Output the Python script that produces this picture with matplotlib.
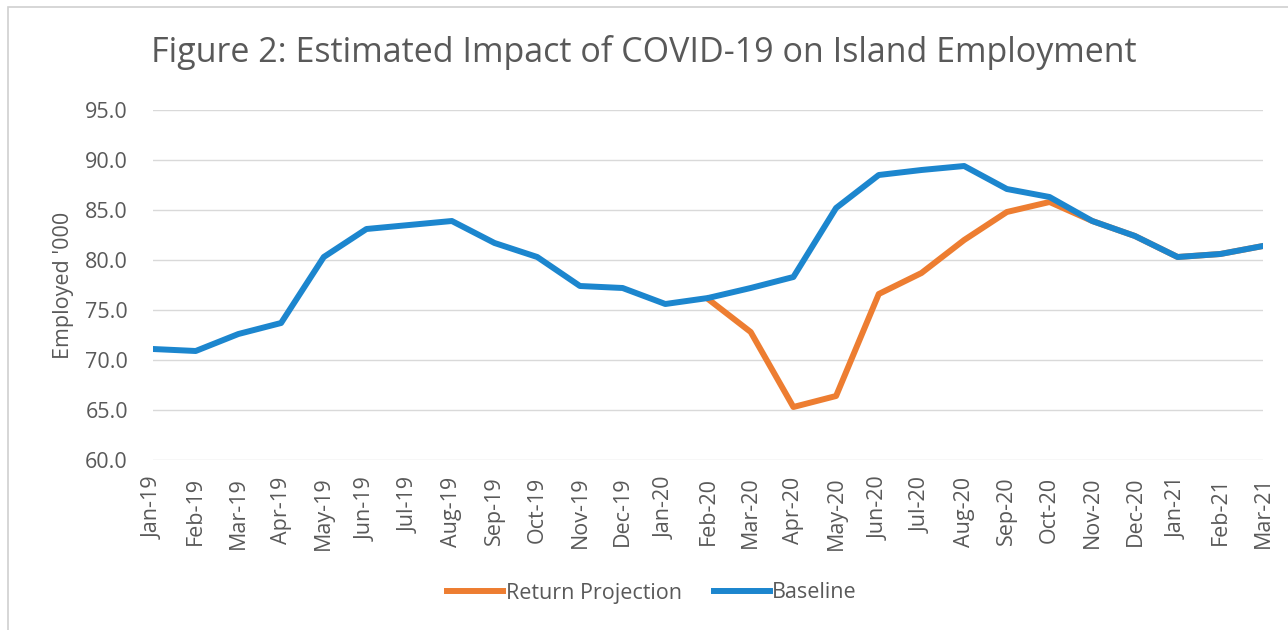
import matplotlib
matplotlib.use("Agg")
import matplotlib.pyplot as plt
import numpy as np
from matplotlib.patches import Rectangle

months = ["Jan-19", "Feb-19", "Mar-19", "Apr-19", "May-19", "Jun-19", "Jul-19",
          "Aug-19", "Sep-19", "Oct-19", "Nov-19", "Dec-19", "Jan-20", "Feb-20",
          "Mar-20", "Apr-20", "May-20", "Jun-20", "Jul-20", "Aug-20", "Sep-20",
          "Oct-20", "Nov-20", "Dec-20", "Jan-21", "Feb-21", "Mar-21"]

baseline = [71.1, 70.9, 72.6, 73.7, 80.3, 83.1, 83.5, 83.9, 81.7, 80.3, 77.4, 77.2,
            75.6, 76.2, 77.2, 78.3, 85.2, 88.5, 89.0, 89.4, 87.1, 86.3, 83.9, 82.4,
            80.3, 80.6, 81.4]

# Return projection starts at Feb-20 and rejoins baseline at Nov-20
proj_months = months[13:]
projection = [76.1, 72.8, 65.3, 66.4, 76.6, 78.7, 82.0, 84.8, 85.8, 83.9, 82.4,
              80.3, 80.6, 81.4]

y_ticks = [60.0, 65.0, 70.0, 75.0, 80.0, 85.0, 90.0, 95.0]

plt.rcParams['font.family'] = ['Open Sans', 'DejaVu Sans']
text_col = '#595959'
blue = '#1C86CE'
orange = '#ED7D31'

fig = plt.figure(figsize=(12.88, 6.3), dpi=100)
ax = fig.add_axes([153/1288, 1 - 460/630, (1263 - 153)/1288, 350/630])

x = np.arange(len(months))
xp = np.arange(13, 13 + len(proj_months))
ax.plot(xp, projection, color=orange, lw=4.3, solid_joinstyle='round', label='Return Projection', zorder=3)
ax.plot(x, baseline, color=blue, lw=4.3, solid_joinstyle='round', label='Baseline', zorder=4)

ax.set_xlim(0, len(months) - 1)
ax.set_ylim(60, 95)
ax.set_yticks(y_ticks)
ax.set_yticklabels([f"{v:.1f}" for v in y_ticks], fontsize=15.5, color=text_col)
ax.set_xticks(x)
ax.set_xticklabels(months, rotation=90, fontsize=15.5, color=text_col)
ax.tick_params(length=0)
ax.tick_params(axis='y', pad=18)
ax.tick_params(axis='x', pad=12)
ax.grid(axis='y', color='#D9D9D9', lw=1)
ax.set_axisbelow(True)
for s in ax.spines.values():
    s.set_visible(False)

ax.set_ylabel("Employed '000", fontsize=15.5, color=text_col, labelpad=8)

fig.text(644/1288, 1 - 53/630, "Figure 2: Estimated Impact of COVID-19 on Island Employment",
         ha='center', va='center', fontsize=24.5, color='#595959')

leg = fig.legend(loc='center', bbox_to_anchor=(652/1288, 1 - 593/630), ncol=2,
                 frameon=False, fontsize=15.5, handlelength=2.6, handletextpad=0.1,
                 columnspacing=1.5)
for t in leg.get_texts():
    t.set_color(text_col)

fig.add_artist(Rectangle((8/1288, -0.01), 1.1, 1 - 7/630 + 0.01, transform=fig.transFigure,
                         fill=False, edgecolor='#D0D0D0', lw=1.2))

fig.savefig("out.png", dpi=100)
